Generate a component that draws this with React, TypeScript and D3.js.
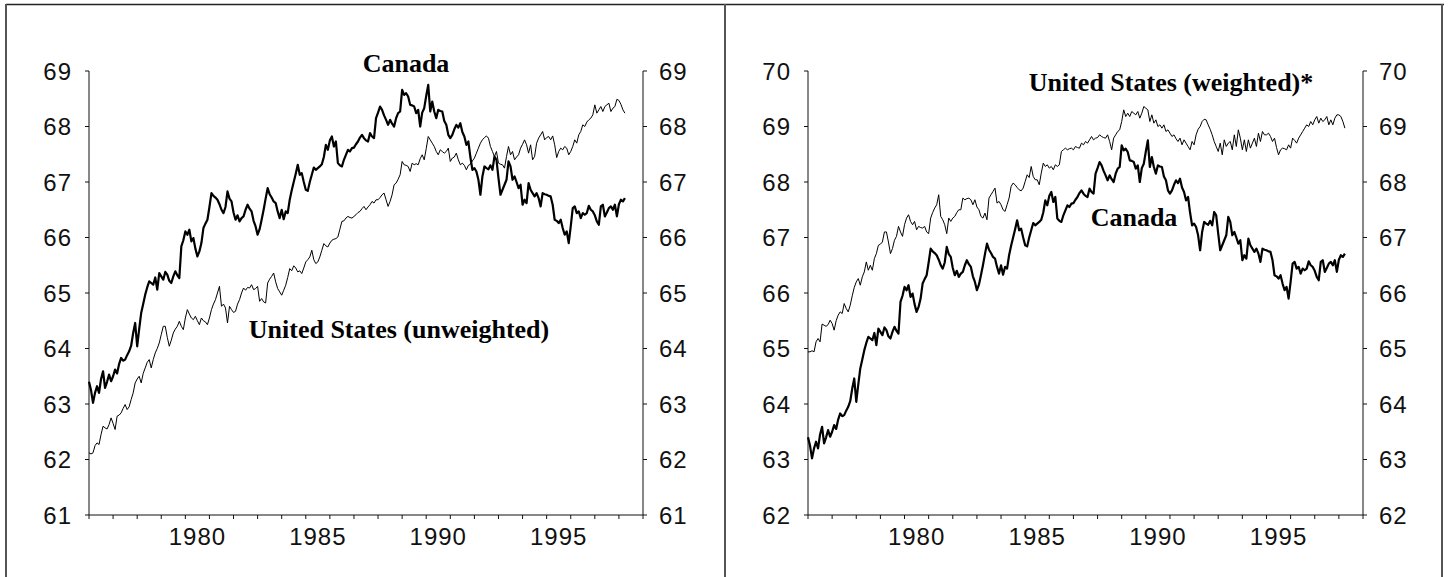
import * as d3 from 'd3'

const width = 1452
const height = 577

// monthly, Jan 1976 .. Apr 1998
const startYear = 1976
const endYear = 1999

const canada = [
  63.40, 63.25, 63.02, 63.20, 63.32, 63.20, 63.45, 63.59, 63.29, 63.40, 63.53, 63.41,
  63.50, 63.62, 63.55, 63.72, 63.83, 63.78, 63.80, 63.88, 63.95, 64.05, 64.28, 64.46,
  64.04, 64.35, 64.64, 64.80, 64.97, 65.10, 65.21, 65.18, 65.15, 65.28, 65.06, 65.36,
  65.30, 65.24, 65.38, 65.33, 65.22, 65.18, 65.30, 65.39, 65.32, 65.27, 65.84, 65.95,
  66.11, 66.05, 66.14, 65.93, 65.99, 65.80, 65.66, 65.75, 65.90, 66.17, 66.25, 66.32,
  66.55, 66.80, 66.75, 66.72, 66.68, 66.60, 66.50, 66.44, 66.55, 66.83, 66.70, 66.65,
  66.45, 66.32, 66.40, 66.29, 66.35, 66.38, 66.50, 66.59, 66.52, 66.47, 66.30, 66.20,
  66.05, 66.15, 66.32, 66.50, 66.70, 66.89, 66.78, 66.72, 66.65, 66.62, 66.47, 66.35,
  66.50, 66.33, 66.47, 66.44, 66.68, 66.85, 67.00, 67.15, 67.31, 67.13, 67.16, 67.00,
  66.86, 66.84, 67.00, 67.13, 67.26, 67.22, 67.25, 67.28, 67.32, 67.45, 67.67, 67.58,
  67.75, 67.82, 67.64, 67.73, 67.34, 67.30, 67.28, 67.40, 67.49, 67.58, 67.55, 67.61,
  67.62, 67.68, 67.73, 67.80, 67.85, 67.79, 67.75, 67.73, 67.88, 67.82, 67.79, 68.15,
  68.25, 68.36, 68.30, 68.20, 68.12, 68.03, 68.12, 68.05, 68.00, 68.15, 68.24, 68.27,
  68.66, 68.57, 68.60, 68.54, 68.39, 68.38, 68.36, 68.24, 68.30, 68.00, 68.25, 68.33,
  68.55, 68.75, 68.27, 68.45, 68.27, 68.15, 68.30, 68.28, 68.27, 68.10, 68.03, 67.85,
  67.79, 67.85, 67.95, 68.03, 67.98, 68.06, 67.90, 67.82, 67.67, 67.73, 67.45, 67.22,
  67.25, 67.19, 67.04, 66.77, 67.10, 67.28, 67.25, 67.23, 67.30, 67.22, 67.46, 67.40,
  67.07, 66.77, 66.86, 66.95, 67.04, 67.37, 67.28, 67.04, 67.10, 67.00, 66.89, 66.95,
  66.59, 66.68, 66.62, 66.98, 66.86, 66.80, 66.74, 66.80, 66.71, 66.56, 66.80, 66.78,
  66.77, 66.75, 66.74, 66.59, 66.32, 66.30, 66.26, 66.32, 66.17, 66.05, 66.11, 65.90,
  66.20, 66.53, 66.56, 66.44, 66.47, 66.35, 66.44, 66.41, 66.44, 66.57, 66.50, 66.47,
  66.40, 66.29, 66.23, 66.56, 66.59, 66.38, 66.45, 66.53, 66.56, 66.50, 66.59, 66.38,
  66.60, 66.68, 66.65, 66.71
]

const usUnweighted = [
  62.12, 62.10, 62.12, 62.25, 62.30, 62.27, 62.45, 62.60, 62.57, 62.55, 62.63, 62.75,
  62.65, 62.54, 62.78, 62.80, 62.84, 62.92, 62.99, 62.90, 62.95, 63.08, 63.20, 63.38,
  63.45, 63.50, 63.38, 63.55, 63.65, 63.75, 63.80, 63.65, 63.80, 63.92, 64.00, 64.10,
  64.25, 64.40, 64.40, 64.20, 64.04, 64.15, 64.28, 64.35, 64.40, 64.49, 64.40, 64.34,
  64.55, 64.70, 64.62, 64.55, 64.52, 64.58, 64.50, 64.43, 64.55, 64.50, 64.48, 64.43,
  64.55, 64.70, 64.80, 64.88, 65.00, 65.12, 64.76, 64.80, 64.73, 64.46, 64.76, 64.70,
  64.65, 64.67, 64.80, 64.88, 65.00, 65.09, 65.05, 65.10, 65.09, 65.15, 65.06, 65.08,
  65.12, 64.85, 64.90, 64.84, 64.82, 65.18, 65.25, 65.30, 65.36, 65.20, 65.08, 65.02,
  64.96, 65.05, 65.14, 65.28, 65.44, 65.40, 65.49, 65.45, 65.38, 65.40, 65.35, 65.45,
  65.56, 65.60, 65.65, 65.77, 65.60, 65.53, 65.56, 65.65, 65.77, 65.89, 65.85, 65.83,
  65.90, 65.95, 65.97, 65.98, 66.01, 66.15, 66.29, 66.30, 66.35, 66.38, 66.36, 66.35,
  66.38, 66.41, 66.45, 66.47, 66.52, 66.56, 66.50, 66.55, 66.59, 66.65, 66.62, 66.68,
  66.68, 66.72, 66.77, 66.80, 66.68, 66.56, 66.65, 66.77, 66.95, 66.98, 67.05, 67.13,
  67.37, 67.31, 67.30, 67.28, 67.19, 67.34, 67.31, 67.33, 67.31, 67.42, 67.49, 67.40,
  67.60, 67.82, 67.76, 67.70, 67.64, 67.55, 67.49, 67.58, 67.55, 67.52, 67.55, 67.61,
  67.37, 67.43, 67.45, 67.52, 67.40, 67.31, 67.34, 67.30, 67.22, 67.30, 67.32, 67.38,
  67.43, 67.52, 67.61, 67.70, 67.76, 67.80, 67.83, 67.79, 67.64, 67.55, 67.46, 67.55,
  67.34, 67.32, 67.31, 67.25, 67.46, 67.64, 67.49, 67.55, 67.40, 67.45, 67.49, 67.61,
  67.68, 67.76, 67.67, 67.52, 67.67, 67.40, 67.46, 67.70, 67.79, 67.85, 67.91, 67.76,
  67.80, 67.82, 67.76, 67.83, 67.67, 67.44, 67.55, 67.61, 67.58, 67.64, 67.61, 67.49,
  67.55, 67.64, 67.76, 67.70, 67.85, 67.91, 68.03, 68.00, 68.08, 68.12, 68.15, 68.21,
  68.39, 68.24, 68.30, 68.36, 68.27, 68.36, 68.39, 68.42, 68.27, 68.33, 68.36, 68.49,
  68.47, 68.40, 68.30, 68.24
]

const usWeighted = [
  64.94, 64.94, 64.96, 64.94, 65.12, 65.18, 65.12, 65.44, 65.42, 65.40, 65.43, 65.51,
  65.45, 65.33, 65.50, 65.60, 65.66, 65.63, 65.81, 65.72, 65.66, 65.78, 65.95, 66.10,
  66.20, 66.26, 66.14, 66.29, 66.38, 66.56, 66.41, 66.50, 66.41, 66.62, 66.71, 66.86,
  66.88, 66.92, 67.10, 67.10, 66.92, 66.71, 66.80, 66.95, 67.02, 67.20, 67.10, 67.02,
  67.23, 67.35, 67.41, 67.29, 67.23, 67.29, 67.14, 67.20, 67.18, 67.17, 67.20, 67.10,
  67.07, 67.35, 67.45, 67.53, 67.59, 67.77, 67.38, 67.32, 67.23, 67.07, 67.35, 67.29,
  67.35, 67.38, 67.45, 67.50, 67.50, 67.71, 67.68, 67.70, 67.71, 67.68, 67.59, 67.68,
  67.55, 67.50, 67.38, 67.35, 67.44, 67.32, 67.71, 67.77, 67.83, 67.89, 67.62, 67.65,
  67.59, 67.50, 67.47, 67.59, 67.71, 67.92, 67.98, 67.95, 67.90, 67.86, 67.84, 67.89,
  68.01, 68.13, 68.08, 68.28, 68.10, 68.04, 68.04, 67.95, 68.16, 68.34, 68.28, 68.31,
  68.25, 68.28, 68.22, 68.31, 68.28, 68.31, 68.55, 68.58, 68.61, 68.58, 68.60, 68.61,
  68.58, 68.64, 68.62, 68.61, 68.70, 68.67, 68.73, 68.70, 68.76, 68.82, 68.76, 68.79,
  68.80, 68.85, 68.82, 68.80, 68.79, 68.85, 68.73, 68.58, 68.79, 68.85, 68.91, 68.94,
  69.09, 69.30, 69.18, 69.24, 69.18, 69.27, 69.24, 69.21, 69.27, 69.15, 69.24, 69.36,
  69.33, 69.30, 69.09, 69.21, 69.06, 69.12, 69.00, 69.03, 68.97, 69.03, 68.91, 68.94,
  68.88, 68.82, 68.85, 68.78, 68.73, 68.79, 68.67, 68.76, 68.70, 68.64, 68.58, 68.73,
  68.67, 68.85, 68.95, 69.00, 69.09, 69.13, 69.12, 69.03, 68.95, 68.85, 68.73, 68.64,
  68.55, 68.70, 68.49, 68.76, 68.64, 68.70, 68.73, 68.58, 68.85, 68.64, 68.94, 68.79,
  68.58, 68.76, 68.55, 68.76, 68.61, 68.70, 68.79, 68.64, 68.88, 68.73, 68.91, 68.85,
  68.85, 68.88, 68.82, 68.73, 68.79, 68.62, 68.49, 68.58, 68.61, 68.60, 68.58, 68.67,
  68.61, 68.79, 68.75, 68.70, 68.79, 68.85, 68.91, 68.97, 69.03, 69.00, 69.09, 69.03,
  69.12, 69.18, 69.06, 69.15, 69.09, 69.12, 69.18, 69.03, 69.12, 69.03, 69.15, 69.21,
  69.21, 69.18, 69.09, 68.97
]

const yearLabels = [1980, 1985, 1990, 1995]

const top = 71
const bottom = 515

const panels = [
  {
    left: 89,
    right: 643,
    yDomain: [61, 69],
    thin: usUnweighted,
    labels: [
      { text: 'Canada', x: 406, y: 72 },
      { text: 'United States (unweighted)', x: 399, y: 338 }
    ]
  },
  {
    left: 808,
    right: 1363,
    yDomain: [62, 70],
    thin: usWeighted,
    labels: [
      { text: 'United States (weighted)*', x: 1171, y: 91 },
      { text: 'Canada', x: 1134, y: 226 }
    ]
  }
]

const tickFont = {
  fontFamily: '"Liberation Sans", Arial, sans-serif',
  fontSize: 24,
  letterSpacing: 1,
  fill: '#111'
}

function Panel({ p }) {
  const xScale = d3.scaleLinear().domain([startYear, endYear]).range([p.left, p.right])
  const yScale = d3.scaleLinear().domain(p.yDomain).range([bottom, top])
  const line = d3.line<number>()
    .x((d, i) => xScale(startYear + i / 12))
    .y(d => yScale(d))
  const yTicks = d3.range(p.yDomain[0], p.yDomain[1] + 1)
  const xTicks = d3.range(startYear, endYear + 1)

  return (
    <g>
      {/* axes */}
      <line x1={p.left} x2={p.left} y1={top} y2={bottom} stroke="#111" />
      <line x1={p.right} x2={p.right} y1={top} y2={bottom} stroke="#111" />
      <line x1={p.left} x2={p.right} y1={bottom} y2={bottom} stroke="#111" />
      {yTicks.map(t => (
        <g key={t} transform={`translate(0, ${yScale(t)})`}>
          <line x1={p.left - 4} x2={p.left} stroke="#111" />
          <line x1={p.right} x2={p.right + 4} stroke="#111" />
          <text x={p.left - 17} dy="0.36em" textAnchor="end" style={tickFont}>{t}</text>
          <text x={p.right + 16} dy="0.36em" style={tickFont}>{t}</text>
        </g>
      ))}
      {xTicks.map(t => (
        <line key={t} x1={xScale(t)} x2={xScale(t)} y1={bottom} y2={bottom + 4} stroke="#111" />
      ))}
      {yearLabels.map(y => (
        <text key={y} x={xScale(y + 0.5)} y={545} textAnchor="middle" style={tickFont}>{y}</text>
      ))}

      <path d={line(p.thin)} fill="none" stroke="#000" strokeWidth={1} strokeLinejoin="round" />
      <path d={line(canada)} fill="none" stroke="#000" strokeWidth={2.2} strokeLinejoin="round" />

      {p.labels.map(l => (
        <text
          key={l.text}
          x={l.x}
          y={l.y}
          textAnchor="middle"
          fontFamily='"Liberation Serif", "Times New Roman", serif'
          fontWeight="bold"
          fontSize={26}
        >{l.text}</text>
      ))}
    </g>
  )
}

export default function App() {
  return (
    <svg width={width} height={height} style={{ position: 'absolute', left: 0, top: 0, background: '#fff' }}>
      <rect width={width} height={height} fill="#fff" />
      {/* frame */}
      <line x1={6} x2={1444} y1={4.5} y2={4.5} stroke="#222" strokeWidth={1.5} />
      <line x1={6} x2={6} y1={4} y2={height} stroke="#555" strokeWidth={2} />
      <line x1={725} x2={725} y1={4} y2={height} stroke="#555" strokeWidth={2} />
      <line x1={1442} x2={1442} y1={4} y2={height} stroke="#555" strokeWidth={2} />
      {panels.map((p, i) => <Panel key={i} p={p} />)}
    </svg>
  )
}
